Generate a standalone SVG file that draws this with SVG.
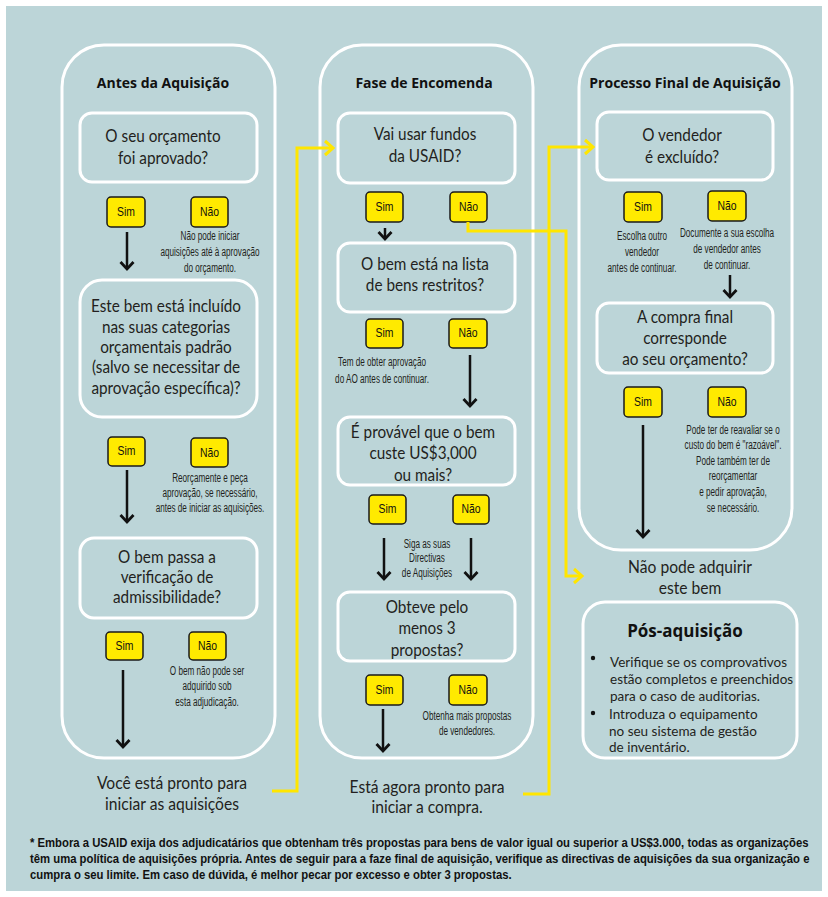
<svg xmlns="http://www.w3.org/2000/svg" width="828" height="897" viewBox="0 0 828 897">
<defs>
<style>
.bg{fill:#bcd5d8}
.col{fill:none;stroke:#fff;stroke-width:3}
.q{fill:none;stroke:#fff;stroke-width:3}
.yn{fill:#ffea00;stroke:#1a1a1a;stroke-width:1.5}
.t{font-family:Lato,"Open Sans",sans-serif;font-size:17px;fill:#231f20;text-anchor:middle}
.h{font-family:"Open Sans",Lato,sans-serif;font-size:14px;font-weight:bold;fill:#111;text-anchor:middle}
.cap{font-family:"Liberation Sans",Arial,sans-serif;font-size:12px;fill:#231f20;text-anchor:middle}
.b{font-family:"Liberation Sans",Arial,sans-serif;font-size:13px;fill:#111;text-anchor:middle}
.ar{fill:none;stroke:#111;stroke-width:2.5}
.ya{fill:none;stroke:#ffe600;stroke-width:3}
.ft{font-family:"Liberation Sans",Arial,sans-serif;font-size:12.5px;font-weight:bold;fill:#111}
.pt{font-family:Lato,"Open Sans",sans-serif;font-size:13.5px;fill:#231f20}
</style>
<marker id="ah" markerUnits="userSpaceOnUse" markerWidth="16" markerHeight="16" refX="8" refY="8" orient="auto" viewBox="0 0 16 16">
<path d="M1,1.5 L8,8 L1,14.5" fill="none" stroke="#111" stroke-width="2.8"/>
</marker>
<marker id="yh" markerUnits="userSpaceOnUse" markerWidth="18" markerHeight="18" refX="10" refY="9" orient="auto" viewBox="0 0 18 18">
<path d="M2,2 L10,9 L2,16" fill="none" stroke="#ffe600" stroke-width="3"/>
</marker>
</defs>
<rect x="0" y="0" width="828" height="897" fill="#fff"/>
<rect class="bg" x="6" y="6" width="816" height="885"/>

<g id="col-antes">
<rect class="col" x="62" y="45" width="213" height="713" rx="42"/>
<text class="h" x="163" y="88">Antes da Aquisição</text>
</g>
<g id="col-fase">
<rect class="col" x="320" y="45" width="213" height="713" rx="42"/>
<text class="h" x="424" y="88">Fase de Encomenda</text>
</g>
<g id="col-final">
<rect class="col" x="579" y="45" width="213" height="505" rx="42"/>
<text class="h" x="685" y="88">Processo Final de Aquisição</text>
</g>

<!-- Column 1 -->
<g id="q1">
<rect class="q" x="80" y="113" width="177" height="69" rx="12"/>
<g transform="translate(163,0) scale(0.9,1)">
<text class="t" x="0" y="142">O seu orçamento</text>
<text class="t" x="0" y="164">foi aprovado?</text>
</g>
</g>
<g id="q1-sim"><rect class="yn" x="107" y="197" width="38" height="30" rx="4"/><g transform="translate(126,216) scale(0.8,1)"><text class="b" x="0" y="0">Sim</text></g></g>
<g id="q1-nao"><rect class="yn" x="191" y="197" width="37" height="30" rx="4"/><g transform="translate(209.5,216) scale(0.8,1)"><text class="b" x="0" y="0">Não</text></g></g>
<g id="q1-nao-note" transform="translate(210,0) scale(0.68,1)">
<text class="cap" x="0" y="240">Não pode iniciar</text>
<text class="cap" x="0" y="256">aquisições até à aprovação</text>
<text class="cap" x="0" y="272">do orçamento.</text>
</g>

<g id="q2">
<rect class="q" x="80" y="280" width="177" height="137" rx="22"/>
<g transform="translate(166,0) scale(0.9,1)">
<text class="t" x="0" y="312">Este bem está incluído</text>
<text class="t" x="0" y="333">nas suas categorias</text>
<text class="t" x="0" y="353">orçamentais padrão</text>
<text class="t" x="0" y="373">(salvo se necessitar de</text>
<text class="t" x="0" y="394">aprovação específica)?</text>
</g>
</g>
<g id="q2-sim"><rect class="yn" x="108" y="437" width="37" height="29" rx="4"/><g transform="translate(126.5,455) scale(0.8,1)"><text class="b" x="0" y="0">Sim</text></g></g>
<g id="q2-nao"><rect class="yn" x="191" y="438" width="37" height="29" rx="4"/><g transform="translate(209.5,457) scale(0.8,1)"><text class="b" x="0" y="0">Não</text></g></g>
<g id="q2-nao-note" transform="translate(210,0) scale(0.68,1)">
<text class="cap" x="0" y="482">Reorçamente e peça</text>
<text class="cap" x="0" y="497">aprovação, se necessário,</text>
<text class="cap" x="0" y="512">antes de iniciar as aquisições.</text>
</g>

<g id="q3">
<rect class="q" x="80" y="538" width="177" height="80" rx="14"/>
<g transform="translate(167,0) scale(0.9,1)">
<text class="t" x="0" y="563">O bem passa a</text>
<text class="t" x="0" y="583">verificação de</text>
<text class="t" x="0" y="603">admissibilidade?</text>
</g>
</g>
<g id="q3-sim"><rect class="yn" x="106" y="632" width="37" height="28" rx="4"/><g transform="translate(124.5,650) scale(0.8,1)"><text class="b" x="0" y="0">Sim</text></g></g>
<g id="q3-nao"><rect class="yn" x="189" y="632" width="37" height="28" rx="4"/><g transform="translate(207.5,650) scale(0.8,1)"><text class="b" x="0" y="0">Não</text></g></g>
<g id="q3-nao-note" transform="translate(207,0) scale(0.68,1)">
<text class="cap" x="0" y="675">O bem não pode ser</text>
<text class="cap" x="0" y="690">adquirido sob</text>
<text class="cap" x="0" y="706">esta adjudicação.</text>
</g>
<g id="ready1" transform="translate(172,0) scale(0.92,1)">
<text class="t" x="0" y="789">Você está pronto para</text>
<text class="t" x="0" y="810">iniciar as aquisições</text>
</g>

<!-- Column 2 -->
<g id="f1">
<rect class="q" x="338" y="113" width="177" height="70" rx="12"/>
<g transform="translate(425,0) scale(0.9,1)">
<text class="t" x="0" y="140">Vai usar fundos</text>
<text class="t" x="0" y="162">da USAID?</text>
</g>
</g>
<g id="f1-sim"><rect class="yn" x="366" y="192" width="37" height="30" rx="4"/><g transform="translate(384.5,211) scale(0.8,1)"><text class="b" x="0" y="0">Sim</text></g></g>
<g id="f1-nao"><rect class="yn" x="450" y="192" width="37" height="30" rx="4"/><g transform="translate(468.5,211) scale(0.8,1)"><text class="b" x="0" y="0">Não</text></g></g>

<g id="f2">
<rect class="q" x="338" y="243" width="177" height="69" rx="12"/>
<g transform="translate(425,0) scale(0.9,1)">
<text class="t" x="0" y="270">O bem está na lista</text>
<text class="t" x="0" y="291">de bens restritos?</text>
</g>
</g>
<g id="f2-sim"><rect class="yn" x="366" y="319" width="37" height="29" rx="4"/><g transform="translate(384.5,337) scale(0.8,1)"><text class="b" x="0" y="0">Sim</text></g></g>
<g id="f2-nao"><rect class="yn" x="449" y="319" width="38" height="29" rx="4"/><g transform="translate(468,337) scale(0.8,1)"><text class="b" x="0" y="0">Não</text></g></g>
<g id="f2-sim-note" transform="translate(382,0) scale(0.68,1)">
<text class="cap" x="0" y="366">Tem de obter aprovação</text>
<text class="cap" x="0" y="383">do AO antes de continuar.</text>
</g>

<g id="f3">
<rect class="q" x="338" y="417" width="177" height="68" rx="12"/>
<g transform="translate(423,0) scale(0.9,1)">
<text class="t" x="0" y="438">É provável que o bem</text>
<text class="t" x="0" y="459">custe US$3,000</text>
<text class="t" x="0" y="481">ou mais?</text>
</g>
</g>
<g id="f3-sim"><rect class="yn" x="369" y="495" width="37" height="29" rx="4"/><g transform="translate(387.5,513) scale(0.8,1)"><text class="b" x="0" y="0">Sim</text></g></g>
<g id="f3-nao"><rect class="yn" x="453" y="495" width="36" height="29" rx="4"/><g transform="translate(471,513) scale(0.8,1)"><text class="b" x="0" y="0">Não</text></g></g>
<g id="f3-note" transform="translate(427,0) scale(0.68,1)">
<text class="cap" x="0" y="548">Siga as suas</text>
<text class="cap" x="0" y="562">Directivas</text>
<text class="cap" x="0" y="577">de Aquisições</text>
</g>

<g id="f4">
<rect class="q" x="338" y="592" width="177" height="69" rx="12"/>
<g transform="translate(427,0) scale(0.9,1)">
<text class="t" x="0" y="613">Obteve pelo</text>
<text class="t" x="0" y="634">menos 3</text>
<text class="t" x="0" y="656">propostas?</text>
</g>
</g>
<g id="f4-sim"><rect class="yn" x="366" y="675" width="37" height="30" rx="4"/><g transform="translate(384.5,694) scale(0.8,1)"><text class="b" x="0" y="0">Sim</text></g></g>
<g id="f4-nao"><rect class="yn" x="449" y="675" width="38" height="30" rx="4"/><g transform="translate(468,694) scale(0.8,1)"><text class="b" x="0" y="0">Não</text></g></g>
<g id="f4-nao-note" transform="translate(467,0) scale(0.68,1)">
<text class="cap" x="0" y="720">Obtenha mais propostas</text>
<text class="cap" x="0" y="735">de vendedores.</text>
</g>
<g id="ready2" transform="translate(427,0) scale(0.92,1)">
<text class="t" x="0" y="793">Está agora pronto para</text>
<text class="t" x="0" y="813">iniciar a compra.</text>
</g>

<!-- Column 3 -->
<g id="p1">
<rect class="q" x="597" y="112" width="176" height="68" rx="12"/>
<g transform="translate(682,0) scale(0.9,1)">
<text class="t" x="0" y="141">O vendedor</text>
<text class="t" x="0" y="163">é excluído?</text>
</g>
</g>
<g id="p1-sim"><rect class="yn" x="624" y="192" width="38" height="30" rx="4"/><g transform="translate(643,211) scale(0.8,1)"><text class="b" x="0" y="0">Sim</text></g></g>
<g id="p1-nao"><rect class="yn" x="708" y="191" width="38" height="30" rx="4"/><g transform="translate(727,210) scale(0.8,1)"><text class="b" x="0" y="0">Não</text></g></g>
<g id="p1-sim-note" transform="translate(642,0) scale(0.68,1)">
<text class="cap" x="0" y="240">Escolha outro</text>
<text class="cap" x="0" y="256">vendedor</text>
<text class="cap" x="0" y="272">antes de continuar.</text>
</g>
<g id="p1-nao-note" transform="translate(727,0) scale(0.68,1)">
<text class="cap" x="0" y="237">Documente a sua escolha</text>
<text class="cap" x="0" y="253">de vendedor antes</text>
<text class="cap" x="0" y="269">de continuar.</text>
</g>

<g id="p2">
<rect class="q" x="597" y="303" width="176" height="70" rx="12"/>
<g transform="translate(685,0) scale(0.9,1)">
<text class="t" x="0" y="323">A compra final</text>
<text class="t" x="0" y="344">corresponde</text>
<text class="t" x="0" y="365">ao seu orçamento?</text>
</g>
</g>
<g id="p2-sim"><rect class="yn" x="624" y="387" width="38" height="30" rx="4"/><g transform="translate(643,406) scale(0.8,1)"><text class="b" x="0" y="0">Sim</text></g></g>
<g id="p2-nao"><rect class="yn" x="708" y="387" width="38" height="30" rx="4"/><g transform="translate(727,406) scale(0.8,1)"><text class="b" x="0" y="0">Não</text></g></g>
<g id="p2-nao-note" transform="translate(733,0) scale(0.68,1)">
<text class="cap" x="0" y="434">Pode ter de reavaliar se o</text>
<text class="cap" x="0" y="449">custo do bem é "razoável".</text>
<text class="cap" x="0" y="465">Pode também ter de</text>
<text class="cap" x="0" y="480">reorçamentar</text>
<text class="cap" x="0" y="496">e pedir aprovação,</text>
<text class="cap" x="0" y="512">se necessário.</text>
</g>
<g id="no-buy" transform="translate(690,0) scale(0.92,1)">
<text class="t" x="0" y="573">Não pode adquirir</text>
<text class="t" x="0" y="594">este bem</text>
</g>

<g id="pos">
<rect class="q" x="583" y="602" width="214" height="156" rx="22"/>
<text class="h" x="685" y="637" style="font-size:17px">Pós-aquisição</text>
<circle cx="593" cy="658" r="2.2" fill="#111"/>
<text class="pt" x="610" y="667">Verifique se os comprovativos</text>
<text class="pt" x="610" y="684">estão completos e preenchidos</text>
<text class="pt" x="610" y="701">para o caso de auditorias.</text>
<circle cx="593" cy="713" r="2.2" fill="#111"/>
<text class="pt" x="609" y="719">Introduza o equipamento</text>
<text class="pt" x="609" y="736">no seu sistema de gestão</text>
<text class="pt" x="609" y="752">de inventário.</text>
</g>

<g id="footer" transform="translate(30,0) scale(0.905,1)">
<text class="ft" x="0" y="847">* Embora a USAID exija dos adjudicatários que obtenham três propostas para bens de valor igual ou superior a US$3.000, todas as organizações</text>
<text class="ft" x="0" y="863">têm uma política de aquisições própria. Antes de seguir para a faze final de aquisição, verifique as directivas de aquisições da sua organização e</text>
<text class="ft" x="0" y="879">cumpra o seu limite. Em caso de dúvida, é melhor pecar por excesso e obter 3 propostas.</text>
</g>

<g id="connectors">
<line class="ar" x1="127" y1="232" x2="127" y2="269" marker-end="url(#ah)"/>
<line class="ar" x1="127" y1="470" x2="127" y2="522" marker-end="url(#ah)"/>
<line class="ar" x1="123" y1="670" x2="123" y2="747" marker-end="url(#ah)"/>
<line class="ar" x1="385" y1="228" x2="385" y2="239" marker-end="url(#ah)"/>
<line class="ar" x1="470" y1="355" x2="470" y2="406" marker-end="url(#ah)"/>
<line class="ar" x1="384" y1="538" x2="384" y2="579" marker-end="url(#ah)"/>
<line class="ar" x1="471" y1="538" x2="471" y2="579" marker-end="url(#ah)"/>
<line class="ar" x1="383" y1="709" x2="383" y2="751" marker-end="url(#ah)"/>
<line class="ar" x1="730" y1="275" x2="730" y2="297" marker-end="url(#ah)"/>
<line class="ar" x1="643" y1="425" x2="643" y2="537" marker-end="url(#ah)"/>
<polyline class="ya" points="272,791 297,791 297,148 333,148" marker-end="url(#yh)"/>
<polyline class="ya" points="523,794 549,794 549,147 593,147" marker-end="url(#yh)"/>
<polyline class="ya" points="468,222 468,231 566,231 566,576 582,576" marker-end="url(#yh)"/>
</g>
</svg>
